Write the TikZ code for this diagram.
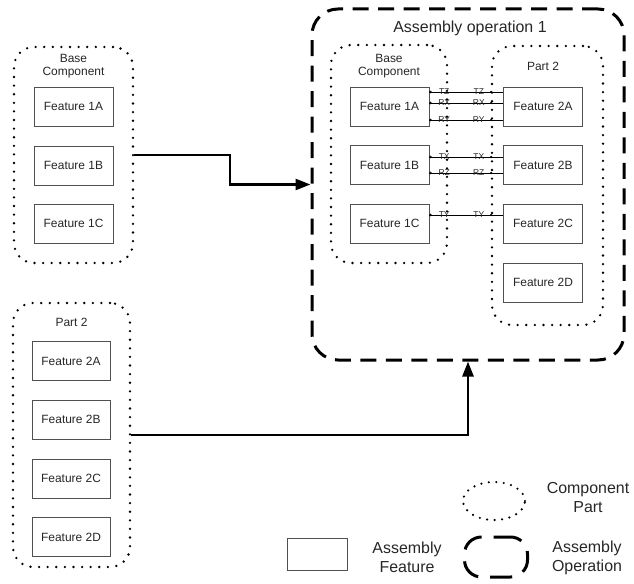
\documentclass[tikz,border=0pt]{standalone}
\usepackage{fontspec}
\setmainfont{Liberation Sans}
\usetikzlibrary{arrows.meta,shapes.geometric}
\definecolor{txt}{HTML}{262626}
\definecolor{boxline}{HTML}{505050}
\tikzset{
  feat/.style={draw=boxline, line width=0.9bp, minimum width=79bp, minimum height=39bp, inner sep=0, text=txt, font=\fontsize{12}{14}\selectfont},
  dotcont/.style={draw=black, line width=2.6bp, line cap=round, dash pattern=on 0bp off 8.6bp, rounded corners=20bp, inner sep=0},
  dashcont/.style={draw=black, line width=3bp, dash pattern=on 16bp off 9.5bp, rounded corners=26bp, inner sep=0},
  ctext/.style={text=txt, font=\fontsize{12}{13.5}\selectfont, align=center, inner sep=0},
  ltext/.style={text=txt, font=\fontsize{16}{19}\selectfont, align=center, inner sep=0},
  tag/.style={text=txt, font=\fontsize{8.5}{9}\selectfont, inner sep=0},
  bigarrow/.style={draw=black, line width=2.6bp, -{Triangle[length=15bp,width=11bp]}},
  link/.style={draw=black, line width=0.8bp},
  jdot/.style={circle, fill=black, inner sep=0, minimum size=2.6bp},
}
\begin{document}
\begin{tikzpicture}[x=1bp,y=-1bp]
\useasboundingbox (0,0) rectangle (634,584);

% left base component
\node[dotcont, minimum width=119bp, minimum height=216bp] (lbase) at (73.5,155) {};
\node[ctext, anchor=north] (lbaset) at (73.5,54) {Base\\Component};
\node[feat] (l1a) at (73.5,106.5) {Feature 1A};
\node[feat] (l1b) at (73.5,165.5) {Feature 1B};
\node[feat] (l1c) at (73.5,223.5) {Feature 1C};

% left part 2
\node[dotcont, minimum width=117bp, minimum height=264bp] (lpart) at (71.5,435) {};
\node[ctext, anchor=north] (lpartt) at (71.5,318) {Part 2};
\node[feat, minimum width=78bp] (l2a) at (71,361) {Feature 2A};
\node[feat, minimum width=78bp] (l2b) at (71,419.5) {Feature 2B};
\node[feat, minimum width=78bp] (l2c) at (71,478.5) {Feature 2C};
\node[feat, minimum width=78bp] (l2d) at (71,537) {Feature 2D};

% assembly operation
\node[dashcont, minimum width=312bp, minimum height=351bp] (asm) at (468,184.5) {};
\node[ltext] (asmt) at (470,28) {Assembly operation 1};

\node[dotcont, minimum width=116bp, minimum height=218bp] (rbase) at (389,154) {};
\node[ctext, anchor=north] (rbaset) at (389,54) {Base\\Component};
\node[feat] (r1a) at (389.5,106.5) {Feature 1A};
\node[feat] (r1b) at (389.5,165) {Feature 1B};
\node[feat] (r1c) at (389.5,223.5) {Feature 1C};

\node[dotcont, minimum width=111bp, minimum height=279bp] (rpart) at (547.5,185.5) {};
\node[ctext, anchor=north] (rpartt) at (543,62) {Part 2};
\node[feat] (r2a) at (543,106.5) {Feature 2A};
\node[feat] (r2b) at (543,165) {Feature 2B};
\node[feat] (r2c) at (543,223.5) {Feature 2C};
\node[feat] (r2d) at (543,282.5) {Feature 2D};

% links
\foreach \src/\dst/\sh/\lt/\rt in {r1a/r2a/14.5/TZ/TZ, r1a/r2a/3.5/RX/RX, r1a/r2a/-13.5/RY/RY, r1b/r2b/8/TX/TX, r1b/r2b/-8/RZ/RZ, r1c/r2c/8.5/TY/TY}{
  \draw[link] ([yshift=\sh bp]\src.east) -- ([yshift=\sh bp]\dst.west)
    node[tag, pos=0.2] {\lt} node[tag, pos=0.67] {\rt};
  \node[jdot] at ([yshift=\sh bp, xshift=1bp]\src.east) {};
  \node[jdot] at ([yshift=\sh bp, xshift=-12bp]\dst.west) {};
}

% arrows
\coordinate (bend1) at (230,155);
\draw[bigarrow] (lbase.east) -- (bend1) |- (asm.west);
\draw[bigarrow] (lpart.east) -| (asm.south);

% legend
\node[draw=black, line width=2.4bp, line cap=round, dash pattern=on 0bp off 7.5bp, ellipse, minimum width=62bp, minimum height=38bp, inner sep=0] (lgdot) at (494,501) {};
\node[ltext] (lgdott) at (588,497.5) {Component\\Part};
\node[draw=boxline, line width=0.9bp, minimum width=60bp, minimum height=32bp, inner sep=0] (lgbox) at (317,554) {};
\node[ltext] (lgboxt) at (407,557.5) {Assembly\\Feature};
\node[draw=black, line width=3bp, dash pattern=on 22bp off 12bp, dash phase=5bp, rounded corners=17bp, minimum width=63bp, minimum height=40bp, inner sep=0] (lgdash) at (496,557) {};
\node[ltext] (lgdasht) at (587,557.5) {Assembly\\Operation};
\end{tikzpicture}
\end{document}
